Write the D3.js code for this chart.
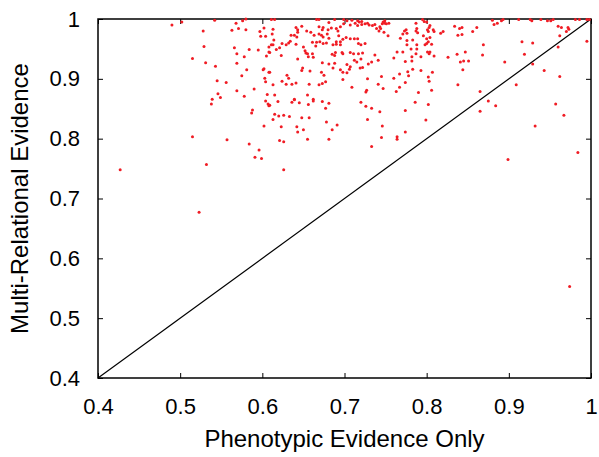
<!DOCTYPE html>
<html>
<head>
<meta charset="utf-8">
<script src="https://cdn.jsdelivr.net/npm/d3@7"></script>
<style>
  body { margin: 0; background: #fff; }
  text { font-family: "Liberation Sans", Arial, sans-serif; }
</style>
</head>
<body>
<div id="chart-area"></div>
<script>
// scatter: phenotypic-only score vs multi-relational score, one point per case

const phenotypic = [
  0.490,0.502,0.542,0.528,0.568,0.576,0.580,0.563,0.571,0.580,0.602,0.597,0.598,0.604,0.529,0.566,0.584,0.595,0.569,0.578,
  0.605,0.608,0.608,0.515,0.531,0.543,0.569,0.581,0.602,0.601,0.608,0.575,0.603,0.604,0.545,0.556,0.569,0.590,0.546,0.549,
  0.578,0.606,0.539,0.538,0.604,0.607,0.608,0.588,0.587,0.602,0.515,0.557,0.584,0.596,0.591,0.599,0.532,0.427,0.523,0.974,
  0.626,0.611,0.615,0.666,0.669,0.681,0.688,0.613,0.612,0.614,0.641,0.643,0.643,0.642,0.648,0.654,0.659,0.635,0.639,0.663,
  0.669,0.669,0.673,0.674,0.674,0.672,0.680,0.679,0.681,0.684,0.690,0.692,0.695,0.699,0.699,0.703,0.707,0.713,0.716,0.718,
  0.721,0.725,0.728,0.730,0.734,0.737,0.739,0.742,0.743,0.693,0.698,0.695,0.690,0.702,0.707,0.712,0.716,0.717,0.720,0.725,
  0.611,0.613,0.617,0.621,0.624,0.629,0.632,0.634,0.641,0.650,0.652,0.653,0.661,0.666,0.670,0.665,0.674,0.678,0.686,0.690,
  0.695,0.609,0.623,0.655,0.656,0.661,0.662,0.685,0.688,0.689,0.697,0.698,0.707,0.711,0.717,0.722,0.712,0.720,0.643,0.673,
  0.681,0.688,0.703,0.707,0.715,0.729,0.733,0.741,0.737,0.649,0.648,0.658,0.672,0.675,0.686,0.695,0.698,0.703,0.706,0.719,
  0.722,0.609,0.630,0.632,0.698,0.728,0.624,0.629,0.636,0.641,0.657,0.669,0.673,0.677,0.613,0.709,0.741,0.727,0.726,0.615,
  0.655,0.639,0.662,0.609,0.619,0.636,0.639,0.645,0.656,0.662,0.673,0.681,0.677,0.720,0.726,0.733,0.615,0.620,0.626,0.633,
  0.613,0.648,0.657,0.678,0.728,0.691,0.623,0.642,0.650,0.643,0.685,0.621,0.626,0.655,0.681,0.733,0.743,0.746,0.749,0.751,
  0.754,0.749,0.747,0.795,0.797,0.800,0.744,0.748,0.753,0.768,0.771,0.773,0.775,0.776,0.776,0.783,0.776,0.787,0.788,0.787,
  0.789,0.796,0.801,0.803,0.804,0.802,0.808,0.809,0.800,0.804,0.802,0.800,0.798,0.806,0.788,0.788,0.781,0.787,0.764,0.771,
  0.801,0.804,0.803,0.809,0.782,0.793,0.760,0.826,0.774,0.782,0.834,0.840,0.843,0.838,0.843,0.817,0.820,0.856,0.861,0.869,
  0.868,0.837,0.847,0.841,0.845,0.851,0.844,0.783,0.777,0.778,0.793,0.807,0.767,0.760,0.802,0.803,0.745,0.774,0.767,0.763,
  0.747,0.790,0.806,0.838,0.865,0.786,0.802,0.774,0.799,0.746,0.745,0.764,0.764,0.774,0.865,0.875,0.880,0.893,0.912,0.926,
  0.928,0.939,0.947,0.951,0.954,0.981,0.986,0.995,0.998,0.882,0.886,0.891,0.960,0.964,0.972,0.973,0.970,0.962,0.916,0.929,
  0.960,0.995,0.919,0.895,0.929,0.943,0.962,0.909,0.884,0.957,0.967,0.932,0.984,0.899,0.709,0.716,0.721
];

const multiRelational = [
  0.990,0.995,0.998,0.980,0.993,0.997,1.000,0.981,0.984,0.982,0.985,0.979,0.971,0.971,0.954,0.952,0.949,0.948,0.942,0.937,
  0.938,0.953,0.945,0.934,0.927,0.921,0.926,0.915,0.917,0.915,0.911,0.905,0.901,0.895,0.897,0.894,0.880,0.883,0.875,0.869,
  0.871,0.874,0.866,0.858,0.863,0.858,0.855,0.848,0.843,0.821,0.803,0.798,0.791,0.781,0.769,0.767,0.757,0.748,0.677,0.553,
  0.748,0.999,0.999,0.999,0.999,0.994,0.999,0.983,0.975,0.965,0.986,0.982,0.978,0.970,0.988,0.980,0.978,0.973,0.973,0.973,
  0.987,0.975,0.982,0.986,0.970,0.973,0.982,0.975,0.968,0.985,0.984,0.980,0.987,0.992,0.999,0.997,0.990,0.993,0.989,0.995,
  0.991,0.992,0.993,0.990,0.989,0.991,0.984,0.980,0.987,0.972,0.966,0.962,0.962,0.969,0.967,0.967,0.967,0.959,0.957,0.959,
  0.957,0.957,0.949,0.952,0.959,0.957,0.960,0.963,0.958,0.953,0.947,0.943,0.961,0.961,0.962,0.955,0.959,0.960,0.957,0.958,
  0.957,0.944,0.939,0.942,0.937,0.942,0.936,0.941,0.939,0.944,0.944,0.942,0.944,0.942,0.942,0.943,0.931,0.933,0.933,0.927,
  0.925,0.926,0.924,0.920,0.928,0.925,0.928,0.931,0.940,0.918,0.914,0.913,0.911,0.906,0.918,0.915,0.911,0.910,0.916,0.918,
  0.919,0.911,0.906,0.901,0.899,0.900,0.896,0.891,0.891,0.893,0.891,0.890,0.892,0.895,0.890,0.886,0.891,0.881,0.878,0.873,
  0.873,0.866,0.866,0.856,0.862,0.861,0.865,0.860,0.857,0.863,0.862,0.859,0.851,0.861,0.854,0.851,0.841,0.838,0.839,0.837,
  0.832,0.835,0.835,0.828,0.832,0.823,0.820,0.820,0.815,0.811,0.815,0.797,0.795,0.799,0.799,0.787,0.845,0.992,0.993,0.992,
  0.993,0.997,0.995,0.999,0.996,0.995,0.984,0.978,0.972,0.968,0.975,0.980,0.982,0.976,0.964,0.965,0.957,0.993,0.984,0.980,
  0.977,0.972,0.982,0.986,0.989,0.979,0.982,0.979,0.967,0.969,0.962,0.959,0.957,0.958,0.957,0.950,0.950,0.942,0.945,0.945,
  0.945,0.945,0.942,0.938,0.937,0.937,0.935,0.936,0.929,0.930,0.988,0.984,0.986,0.973,0.974,0.976,0.979,0.979,0.986,0.957,
  0.940,0.941,0.945,0.928,0.930,0.930,0.915,0.916,0.912,0.905,0.914,0.911,0.908,0.901,0.903,0.896,0.904,0.894,0.886,0.879,
  0.884,0.877,0.881,0.890,0.879,0.861,0.857,0.847,0.831,0.821,0.802,0.803,0.799,0.811,0.846,0.863,0.998,0.999,0.999,0.999,
  0.997,0.999,0.997,0.997,0.999,0.999,0.999,0.999,0.999,0.991,0.993,0.997,0.988,0.986,0.986,0.983,0.979,0.972,0.962,0.960,
  0.953,0.963,0.941,0.928,0.925,0.914,0.904,0.890,0.855,0.858,0.839,0.821,0.777,0.765,0.998,0.997,0.996
];

const xTicks = [0.4, 0.5, 0.6, 0.7, 0.8, 0.9, 1];
const yTicks = [0.4, 0.5, 0.6, 0.7, 0.8, 0.9, 1];

const points = phenotypic.map((p, i) => ({ x: p, y: multiRelational[i] }));

const margin = { left: 98, right: 8, top: 19, bottom: 79 };
const full_width = 599, full_height = 457;
const width = full_width - margin.left - margin.right,
    height = full_height - margin.top - margin.bottom;

const svg = d3.select("#chart-area")
    .append("svg")
    .attr("width", full_width)
    .attr("height", full_height);

const g = svg.append("g")
    .attr("transform", "translate(" + margin.left + ", " + margin.top + ")");

const x = d3.scaleLinear().domain([0.4, 1]).range([0, width]);
const y = d3.scaleLinear().domain([0.4, 1]).range([height, 0]);

const fmt = d => d3.format("")(+d.toFixed(1));

// inward ticks on all four sides, labels only bottom and left
function styleAxis(sel) {
    sel.select(".domain").remove();
    sel.selectAll("line").attr("stroke", "#000").attr("stroke-width", 1);
    sel.selectAll("text").attr("font-size", "22px").attr("fill", "#000");
}

g.append("g")
    .attr("transform", "translate(0, " + height + ")")
    .call(d3.axisBottom(x).tickValues(xTicks).tickFormat(fmt).tickSizeInner(-5).tickPadding(20))
    .call(styleAxis);

g.append("g")
    .call(d3.axisTop(x).tickValues(xTicks).tickFormat("").tickSizeInner(-5))
    .call(styleAxis);

g.append("g")
    .call(d3.axisLeft(y).tickValues(yTicks).tickFormat(fmt).tickSizeInner(-5).tickPadding(18))
    .call(styleAxis);

g.append("g")
    .attr("transform", "translate(" + width + ", 0)")
    .call(d3.axisRight(y).tickValues(yTicks).tickFormat("").tickSizeInner(-5))
    .call(styleAxis);

// diagonal y = x
g.append("line")
    .attr("x1", x(0.4)).attr("y1", y(0.4))
    .attr("x2", x(1)).attr("y2", y(1))
    .attr("stroke", "#000")
    .attr("stroke-width", 1.2);

// frame
g.append("rect")
    .attr("width", width)
    .attr("height", height)
    .attr("fill", "none")
    .attr("stroke", "#000")
    .attr("stroke-width", 1.5);

g.selectAll("circle")
    .data(points)
    .enter()
    .append("circle")
        .attr("cx", d => x(d.x))
        .attr("cy", d => y(d.y))
        .attr("r", 1.5)
        .attr("fill", "#f01c24");

// X Label
g.append("text")
    .attr("x", width / 2)
    .attr("y", height + 69)
    .attr("font-size", "24px")
    .attr("text-anchor", "middle")
    .text("Phenotypic Evidence Only");

// Y Label
g.append("text")
    .attr("x", -(height / 2))
    .attr("y", -70)
    .attr("font-size", "24px")
    .attr("text-anchor", "middle")
    .attr("transform", "rotate(-90)")
    .text("Multi-Relational Evidence");
</script>
</body>
</html>
